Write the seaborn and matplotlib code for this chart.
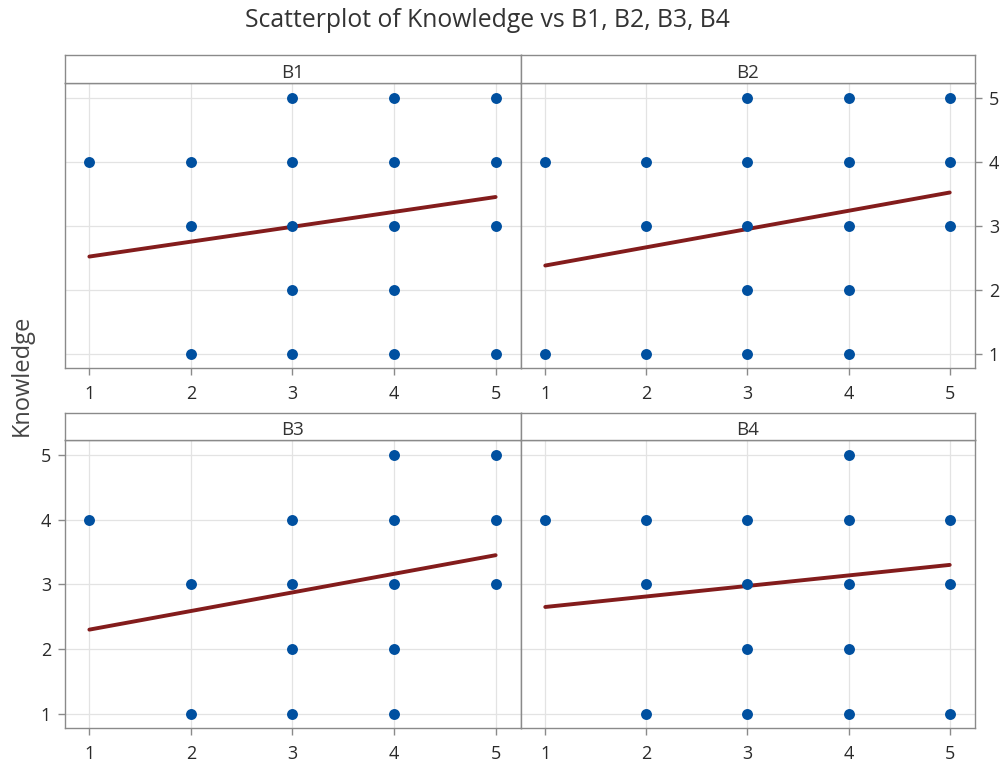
import numpy as np
import pandas as pd
import matplotlib
matplotlib.use("Agg")
import matplotlib.pyplot as plt
import seaborn as sns

# ── Data ──────────────────────────────────────────────────────────────────
panels = ["B1", "B2", "B3", "B4"]

b1_x = [1, 2, 2, 2, 3, 3, 3, 3, 3, 4, 4, 4, 4, 4, 5, 5, 5, 5]
b1_y = [4, 4, 3, 1, 5, 4, 3, 2, 1, 5, 4, 3, 2, 1, 5, 4, 3, 1]
b2_x = [1, 1, 2, 2, 2, 3, 3, 3, 3, 3, 4, 4, 4, 4, 4, 5, 5, 5]
b2_y = [4, 1, 4, 3, 1, 5, 4, 3, 2, 1, 5, 4, 3, 2, 1, 5, 4, 3]
b3_x = [1, 2, 2, 3, 3, 3, 3, 4, 4, 4, 4, 4, 5, 5, 5]
b3_y = [4, 3, 1, 4, 3, 2, 1, 5, 4, 3, 2, 1, 5, 4, 3]
b4_x = [1, 2, 2, 2, 3, 3, 3, 3, 4, 4, 4, 4, 4, 5, 5, 5]
b4_y = [4, 4, 3, 1, 4, 3, 2, 1, 5, 4, 3, 2, 1, 4, 3, 1]

# fitted line values at x=1 and x=5
fit_lo = [2.52, 2.38, 2.30, 2.65]
fit_hi = [3.45, 3.52, 3.45, 3.30]

ticks = [1, 2, 3, 4, 5]

xs = [b1_x, b2_x, b3_x, b4_x]
ys = [b1_y, b2_y, b3_y, b4_y]

sns.set_theme(style="white")
plt.rcParams["font.family"] = ["Open Sans", "DejaVu Sans"]

fig = plt.figure(figsize=(10.04, 7.65), dpi=100)

W, H = 1004, 765
def box(x0, y0, x1, y1):
    return [x0 / W, (H - y1) / H, (x1 - x0) / W, (y1 - y0) / H]

plot_boxes = [box(65, 83, 521, 368), box(521, 83, 975, 368),
              box(65, 440, 521, 728), box(521, 440, 975, 728)]
strip_boxes = [box(65, 55, 521, 83), box(521, 55, 975, 83),
               box(65, 413, 521, 440), box(521, 413, 975, 440)]

frame_c = "#8a8a8a"
dot_c = "#0050a0"
line_c = "#831c1c"
text_c = "#2a2a2a"

for i, name in enumerate(panels):
    ax = fig.add_axes(plot_boxes[i])
    df = pd.DataFrame({"x": xs[i], "y": ys[i]})
    sns.scatterplot(data=df, x="x", y="y", ax=ax, color=dot_c, s=62,
                    edgecolor=dot_c, linewidth=0, zorder=3)
    ax.plot([min(ticks), max(ticks)], [fit_lo[i], fit_hi[i]], color=line_c,
            lw=2.8, zorder=2)
    ax.set_xlim(0.76, 5.25)
    ax.set_ylim(0.78, 5.23)
    ax.set_xticks(ticks)
    ax.set_yticks(ticks)
    ax.grid(True, color="#e3e3e3", lw=0.9, zorder=0)
    ax.set_axisbelow(True)
    ax.set_xlabel("")
    ax.set_ylabel("")
    for sp in ax.spines.values():
        sp.set_color(frame_c)
        sp.set_linewidth(1.0)
    ax.tick_params(axis="both", length=5, width=1, color=frame_c,
                   labelsize=13, labelcolor=text_c, direction="out",
                   bottom=True, left=False, pad=7)
    if i == 1:
        ax.yaxis.tick_right()
        ax.tick_params(axis="y", right=True, length=5, pad=5)
    elif i == 2:
        ax.tick_params(axis="y", left=True, length=5, pad=5)
    else:
        ax.set_yticklabels([])
        ax.tick_params(axis="y", left=False, right=False)

    sax = fig.add_axes(strip_boxes[i])
    sax.set_xticks([])
    sax.set_yticks([])
    for sp in sax.spines.values():
        sp.set_color(frame_c)
        sp.set_linewidth(1.0)
    sax.text(0.5, 0.36, name, ha="center", va="center", fontsize=13.5,
             color="#333333", transform=sax.transAxes)

fig.text(0.485, 0.973, "Scatterplot of Knowledge vs B1, B2, B3, B4",
         ha="center", va="center", fontsize=17.8, color="#333333")
fig.text(0.022, 0.51, "Knowledge", rotation=90, ha="center", va="center",
         fontsize=17, color="#444444")

fig.savefig("out.png", dpi=100)
